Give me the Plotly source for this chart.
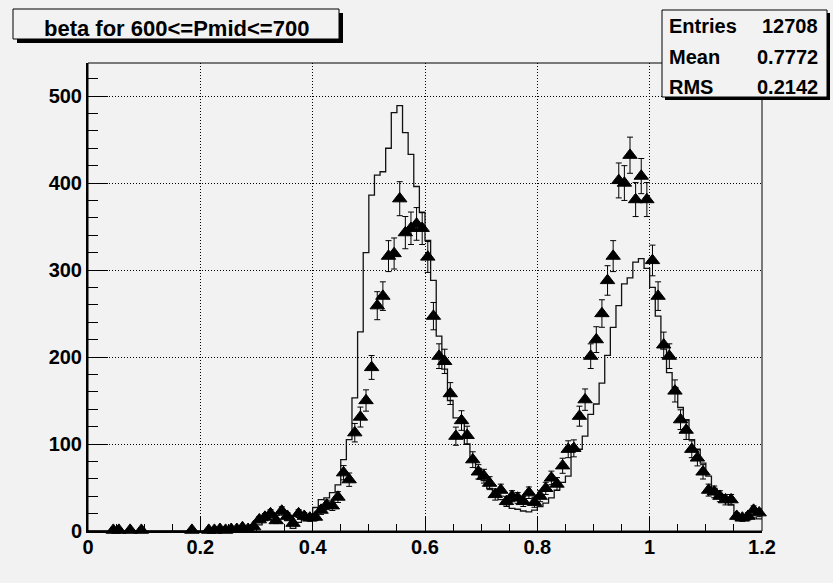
import numpy as np
import plotly.graph_objects as go

# ---------------- data ----------------
title_text = "beta for 600<=Pmid<=700"
stats_labels = ["Entries", "Mean", "RMS"]
stats_values = ["12708", "0.7772", "0.2142"]

x_min, x_max, n_bins = 0.0, 1.2, 120
y_max = 538

# reference histogram (one value per 0.01 bin, 0.00 ... 1.19)
hist_counts = [
    0, 0, 0, 0, 0, 0, 0, 0, 0, 0,
    0, 0, 0, 0, 0, 0, 0, 0, 0, 0,
    0, 0, 0, 0, 0, 0, 0, 0, 1, 3,
    7, 12, 15, 18, 20, 12, 3, 10, 14, 16,
    27, 36, 38, 44, 53, 82, 105, 153, 229, 320,
    386, 409, 413, 440, 481, 489, 458, 433, 396, 366,
    334, 288, 224, 186, 150, 130, 128, 100, 84, 72,
    58, 49, 43, 36, 30, 26, 25, 23, 22, 24,
    28, 32, 38, 47, 56, 63, 93, 94, 109, 134,
    146, 170, 202, 234, 259, 284, 291, 309, 313, 302,
    280, 247, 209, 182, 165, 142, 128, 105, 94, 78,
    63, 49, 40, 34, 30, 17, 14, 13, 15, 14,
]

# measured points (bin centres and contents)
data_x = [
    0.045, 0.055, 0.075, 0.095, 0.185,
    0.215, 0.225, 0.235, 0.245, 0.255, 0.265, 0.275, 0.285, 0.295,
    0.305, 0.315, 0.325, 0.335, 0.345, 0.355, 0.365, 0.375, 0.385, 0.395,
    0.405, 0.415, 0.425, 0.435, 0.445, 0.455, 0.465, 0.475, 0.485, 0.495,
    0.505, 0.515, 0.525, 0.535, 0.545, 0.555, 0.565, 0.575, 0.585, 0.595,
    0.605, 0.615, 0.625, 0.635, 0.645, 0.655, 0.665, 0.675, 0.685, 0.695,
    0.705, 0.715, 0.725, 0.735, 0.745, 0.755, 0.765, 0.775, 0.785, 0.795,
    0.805, 0.815, 0.825, 0.835, 0.845, 0.855, 0.865, 0.875, 0.885, 0.895,
    0.905, 0.915, 0.925, 0.935, 0.945, 0.955, 0.965, 0.975, 0.985, 0.995,
    1.005, 1.015, 1.025, 1.035, 1.045, 1.055, 1.065, 1.075, 1.085, 1.095,
    1.105, 1.115, 1.125, 1.135, 1.145, 1.155, 1.165, 1.175, 1.185, 1.195,
]
data_y = [
    1, 1, 1, 1, 1,
    1, 1, 2, 1, 2, 2, 4, 2, 5,
    13, 16, 20, 12, 23, 17, 9, 20, 17, 15,
    16, 24, 30, 29, 39, 67, 59, 113, 131, 150,
    188, 259, 270, 316, 319, 382, 343, 348, 353, 348,
    315, 247, 201, 195, 158, 109, 127, 110, 82, 68,
    63, 55, 42, 47, 34, 40, 38, 34, 44, 33,
    40, 49, 61, 54, 75, 94, 95, 132, 151, 201,
    220, 250, 288, 316, 403, 400, 432, 381, 408, 381,
    311, 270, 214, 201, 161, 128, 116, 94, 84, 68,
    47, 45, 40, 36, 36, 17, 15, 17, 24, 21,
]

# ---------------- layout geometry (pixels) ----------------
W, H = 833, 583
L, R, T, B = 88, 762, 63, 531   # plot frame in pixels

def px(x):
    return (x - L) / (R - L)

def py(y):
    return (B - y) / (B - T)

BG = "#f2f2f2"
FONT = "Liberation Sans, Arial, Helvetica, sans-serif"

edges = np.linspace(x_min, x_max, n_bins + 1)
hx = list(edges[:-1]) + [edges[-1]]
hy = list(hist_counts) + [hist_counts[-1]]

fig = go.Figure()
fig.add_trace(go.Scatter(
    x=hx, y=hy, mode="lines", line=dict(color="#111111", width=1.3, shape="hv"),
    hoverinfo="skip", showlegend=False,
))
fig.add_trace(go.Scatter(
    x=data_x, y=data_y, mode="markers",
    marker=dict(symbol="triangle-up", size=12.5, color="black",
                line=dict(color="black", width=1)),
    error_y=dict(type="data", array=list(np.sqrt(np.array(data_y, dtype=float))),
                 thickness=1, width=3, color="black"),
    cliponaxis=False, showlegend=False,
))

shapes = []
# frame (thin top / right)
shapes.append(dict(type="rect", xref="paper", yref="paper", x0=0, x1=1, y0=0, y1=1,
                   line=dict(color="black", width=1), layer="above"))

def box(x0, y0, x1, y1, sh):
    shapes.append(dict(type="rect", xref="paper", yref="paper",
                       x0=px(x0 + sh), x1=px(x1 + sh), y0=py(y1 + sh), y1=py(y0 + sh),
                       fillcolor="black", line=dict(width=0), layer="above"))
    shapes.append(dict(type="rect", xref="paper", yref="paper",
                       x0=px(x0), x1=px(x1), y0=py(y1), y1=py(y0),
                       fillcolor=BG, line=dict(color="black", width=1), layer="above"))

box(13, 9, 339, 39, 4)
box(662, 10, 827, 97, 3)

annotations = [
    dict(text="<b>" + title_text + "</b>", xref="paper", yref="paper",
         x=px(176), y=py(28), xanchor="center", yanchor="middle", showarrow=False,
         font=dict(family=FONT, size=22, color="black")),
]
row_y = [26, 56.5, 86.5]
for lab, val, ry in zip(stats_labels, stats_values, row_y):
    annotations.append(dict(text="<b>" + lab + "</b>", xref="paper", yref="paper",
                            x=px(667), y=py(ry), xanchor="left", yanchor="middle",
                            showarrow=False, font=dict(family=FONT, size=20, color="black")))
    annotations.append(dict(text="<b>" + val + "</b>", xref="paper", yref="paper",
                            x=px(820), y=py(ry), xanchor="right", yanchor="middle",
                            showarrow=False, font=dict(family=FONT, size=20, color="black")))

fig.update_layout(
    width=W, height=H,
    margin=dict(l=L, r=W - R, t=T, b=H - B, pad=0),
    paper_bgcolor=BG, plot_bgcolor=BG,
    shapes=shapes, annotations=annotations,
    xaxis=dict(range=[x_min, x_max], dtick=0.2, tick0=0,
               showline=True, linecolor="black", linewidth=2,
               ticks="inside", ticklen=14, tickwidth=1, tickcolor="black",
               minor=dict(dtick=0.05, ticks="inside", ticklen=7, tickcolor="black",
                          tickwidth=1, showgrid=False),
               showgrid=True, gridcolor="black", gridwidth=1, griddash="1px,2px",
               zeroline=False, ticklabelstandoff=-3,
               tickfont=dict(family=FONT, size=20, color="black", weight="bold")),
    yaxis=dict(range=[0, y_max], dtick=100, tick0=0,
               showline=True, linecolor="black", linewidth=2,
               ticks="inside", ticklen=20, tickwidth=1, tickcolor="black",
               minor=dict(dtick=20, ticks="inside", ticklen=10, tickcolor="black",
                          tickwidth=1, showgrid=False),
               showgrid=True, gridcolor="black", gridwidth=1, griddash="1px,2px",
               zeroline=False,
               tickfont=dict(family=FONT, size=20, color="black", weight="bold")),
)

fig.write_html("out.html")
